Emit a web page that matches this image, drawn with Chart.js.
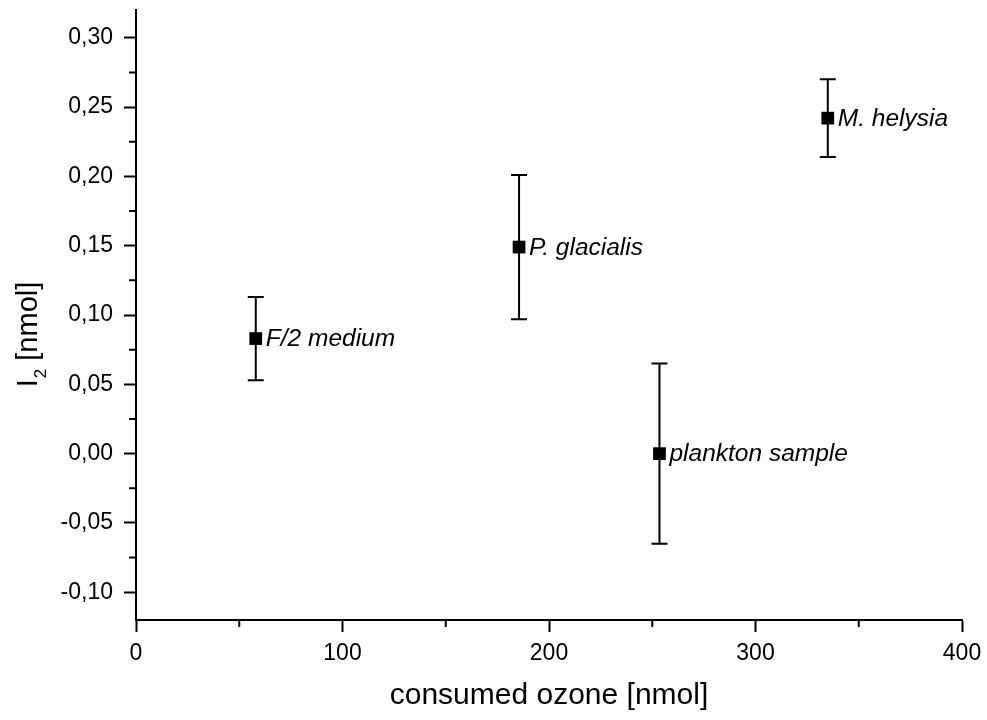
<!DOCTYPE html>
<html>
<head>
<meta charset="utf-8">
<script src="https://cdn.jsdelivr.net/npm/chart.js@4/dist/chart.umd.min.js"></script>
<style>
  body { margin: 0; background: #fff; }
</style>
</head>
<body>
<canvas id="grafico" width="987" height="720"></canvas>
<script>
// datos
var muestras = ['F/2 medium', 'P. glacialis', 'plankton sample', 'M. helysia'];
var ozonoConsumido = [58, 185.5, 253.5, 335];
var yodo = [0.083, 0.149, 0.0, 0.242];
var errorYodo = [0.030, 0.052, 0.065, 0.028];

var xMinorTicks = [50, 150, 250, 350];
var yMinorTicks = [-0.075, -0.025, 0.025, 0.075, 0.125, 0.175, 0.225, 0.275];

var fuente = '"Liberation Sans", Arial, sans-serif';

var puntos = ozonoConsumido.map(function (x, i) {
    return { x: x, y: yodo[i] };
});

// barras de error, ticks menores, etiquetas y titulo del eje y
var extras = {
    id: 'extras',
    beforeDatasetsDraw: function (chart) {
        var ctx = chart.ctx;
        var xs = chart.scales.x, ys = chart.scales.y;
        ctx.save();
        ctx.strokeStyle = '#000';
        ctx.lineWidth = 2;
        for (var i = 0; i < ozonoConsumido.length; i++) {
            var px = xs.getPixelForValue(ozonoConsumido[i]);
            var top = ys.getPixelForValue(yodo[i] + errorYodo[i]);
            var bot = ys.getPixelForValue(yodo[i] - errorYodo[i]);
            ctx.beginPath();
            ctx.moveTo(px, top); ctx.lineTo(px, bot);
            ctx.moveTo(px - 8, top); ctx.lineTo(px + 8, top);
            ctx.moveTo(px - 8, bot); ctx.lineTo(px + 8, bot);
            ctx.stroke();
        }
        ctx.restore();
    },
    afterDatasetsDraw: function (chart) {
        var ctx = chart.ctx;
        var xs = chart.scales.x, ys = chart.scales.y;
        ctx.save();
        ctx.fillStyle = '#000';
        ctx.font = 'italic 24.5px ' + fuente;
        ctx.textAlign = 'left';
        ctx.textBaseline = 'middle';
        for (var i = 0; i < muestras.length; i++) {
            ctx.fillText(muestras[i], xs.getPixelForValue(ozonoConsumido[i]) + 10, ys.getPixelForValue(yodo[i]) + 1);
        }
        ctx.restore();
    },
    afterDraw: function (chart) {
        var ctx = chart.ctx;
        var xs = chart.scales.x, ys = chart.scales.y;
        var area = chart.chartArea;
        ctx.save();
        ctx.strokeStyle = '#000';
        ctx.lineWidth = 2;
        ctx.beginPath();
        xMinorTicks.forEach(function (v) {
            var px = xs.getPixelForValue(v);
            ctx.moveTo(px, area.bottom); ctx.lineTo(px, area.bottom + 7);
        });
        yMinorTicks.forEach(function (v) {
            var py = ys.getPixelForValue(v);
            ctx.moveTo(area.left, py); ctx.lineTo(area.left - 7, py);
        });
        ctx.stroke();

        // titulo eje y: I con subindice 2
        ctx.fillStyle = '#000';
        ctx.textBaseline = 'alphabetic';
        ctx.textAlign = 'left';
        var f1 = '29px ' + fuente, f2 = '17px ' + fuente;
        ctx.font = f1;
        var wI = ctx.measureText('I').width;
        var wR = ctx.measureText(' [nmol]').width;
        ctx.font = f2;
        var w2 = ctx.measureText('2').width;
        var total = wI + w2 + wR;
        var cy = (area.top + area.bottom) / 2 + 20;
        ctx.translate(37, cy + total / 2);
        ctx.rotate(-Math.PI / 2);
        ctx.font = f1;
        ctx.fillText('I', 0, 0);
        ctx.font = f2;
        ctx.fillText('2', wI + 1, 9);
        ctx.font = f1;
        ctx.fillText(' [nmol]', wI + w2 + 1, 0);
        ctx.restore();
    }
};

var ctx = document.getElementById('grafico').getContext('2d');
var myChart = new Chart(ctx, {
    type: 'scatter',
    data: {
        datasets: [{
            label: 'I2',
            data: puntos,
            pointStyle: 'rect',
            pointRadius: 9,
            pointHoverRadius: 9,
            backgroundColor: '#000',
            borderWidth: 0
        }]
    },
    options: {
        responsive: false,
        animation: false,
        layout: { padding: { top: 10, right: 25, left: 0, bottom: 0 } },
        plugins: {
            legend: { display: false },
            tooltip: { enabled: false }
        },
        scales: {
            x: {
                type: 'linear',
                min: 0,
                max: 400,
                afterFit: function (scale) {
                    scale.height = 100;
                    scale.paddingLeft = 0;
                    scale.paddingRight = 0;
                },
                border: { display: true, color: '#000', width: 2 },
                grid: { drawOnChartArea: false, drawTicks: true, tickLength: 12, tickWidth: 2, tickColor: '#000' },
                ticks: {
                    stepSize: 100,
                    color: '#000',
                    padding: 8,
                    maxRotation: 0,
                    font: { family: fuente, size: 23 }
                },
                title: {
                    display: true,
                    text: 'consumed ozone [nmol]',
                    color: '#000',
                    font: { family: fuente, size: 30 },
                    padding: { top: 0, bottom: 6 }
                }
            },
            y: {
                type: 'linear',
                min: -0.12,
                max: 0.32,
                afterFit: function (scale) {
                    scale.width = 136;
                    scale.paddingTop = 0;
                    scale.paddingBottom = 0;
                },
                border: { display: true, color: '#000', width: 2 },
                grid: { drawOnChartArea: false, drawTicks: true, tickLength: 12, tickWidth: 2, tickColor: '#000' },
                ticks: {
                    stepSize: 0.05,
                    includeBounds: false,
                    color: '#000',
                    padding: 11,
                    font: { family: fuente, size: 23 },
                    callback: function (v) {
                        return v.toFixed(2).replace('.', ',');
                    }
                }
            }
        }
    },
    plugins: [extras]
});
</script>
</body>
</html>
